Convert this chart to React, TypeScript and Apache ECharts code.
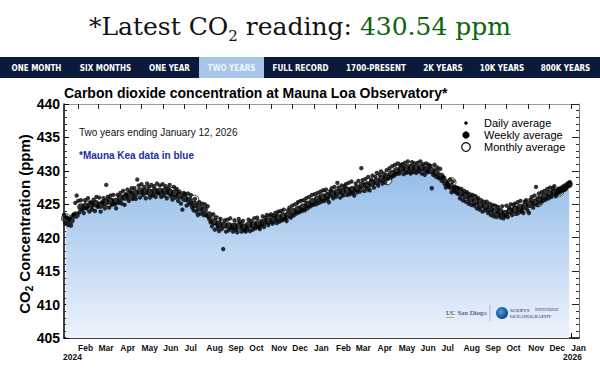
import { useEffect, useRef } from "react";
import * as echarts from "echarts";

const DAY_MS = 86400000;
const RANGE_START = Date.UTC(2024, 0, 12);
const RANGE_END = Date.UTC(2026, 0, 12);

// Daily averages (ppm), one value every 2 days from Jan 12, 2024
const DAILY_STEP = 2;
const DAILY_PPM = [
  423.4, 422.1, 423.0, 421.9, 422.8, 421.8, 423.3, 423.5, 425.2, 426.3,
  425.5, 423.8, 425.6, 424.2, 423.7, 425.6, 424.4, 425.9, 423.9, 425.3,
  424.2, 425.7, 424.0, 426.1, 424.6, 426.0, 423.9, 425.3, 425.9, 424.4,
  427.9, 426.1, 424.5, 426.3, 424.9, 426.4, 425.0, 424.4, 426.4, 425.2,
  426.7, 425.1, 427.0, 424.9, 426.5, 427.2, 425.5, 426.9, 427.4, 425.8,
  427.4, 425.8, 428.7, 427.8, 426.0, 428.0, 426.4, 427.6, 425.9, 428.1,
  427.6, 426.0, 427.9, 426.3, 427.7, 426.1, 428.1, 426.6, 427.8, 426.1,
  428.0, 426.3, 427.7, 425.9, 427.4, 427.9, 426.2, 425.7, 427.6, 426.0,
  427.3, 425.5, 426.9, 425.1, 424.2, 426.7, 426.5, 424.8, 426.6, 425.0,
  426.4, 424.5, 424.1, 425.8, 423.9, 423.4, 425.3, 423.6, 425.1, 423.4,
  425.0, 423.3, 424.7, 422.8, 422.3, 421.7, 423.5, 421.2, 423.0, 421.5,
  421.0, 422.8, 421.3, 418.3, 422.6, 420.9, 422.7, 421.1, 422.9, 421.4,
  420.9, 422.6, 421.2, 420.8, 422.8, 422.3, 420.9, 422.5, 421.1, 420.9,
  421.3, 422.7, 421.0, 422.5, 421.2, 422.9, 421.4, 423.0, 421.6, 421.3,
  421.8, 423.2, 421.6, 423.0, 423.4, 421.9, 423.3, 423.5, 422.1, 423.3,
  423.7, 422.2, 423.9, 422.4, 424.0, 422.6, 424.2, 422.8, 422.5, 424.1,
  424.5, 423.0, 424.8, 423.3, 425.0, 423.6, 425.3, 423.8, 425.5, 424.0,
  425.6, 424.1, 425.9, 424.4, 426.1, 424.7, 426.4, 424.9, 426.5, 425.0,
  426.7, 425.2, 426.9, 425.4, 427.1, 425.5, 427.2, 425.8, 425.3, 427.0,
  427.4, 425.9, 427.6, 426.1, 428.2, 427.5, 426.0, 427.8, 426.3, 427.7,
  428.0, 426.4, 428.2, 426.5, 428.4, 426.7, 426.3, 428.1, 426.8, 428.5,
  426.9, 430.4, 428.6, 427.0, 428.8, 427.3, 429.1, 427.1, 428.7, 429.3,
  427.5, 429.1, 429.7, 427.8, 429.4, 429.9, 428.1, 429.6, 428.3, 430.1,
  428.8, 430.4, 429.0, 430.7, 429.2, 430.9, 429.5, 431.1, 429.6, 430.8,
  431.0, 429.5, 431.2, 429.7, 431.4, 429.9, 429.6, 431.3, 429.8, 431.1,
  429.7, 431.2, 429.9, 431.4, 429.6, 431.0, 429.4, 431.1, 429.8, 430.9,
  430.7, 427.4, 429.4, 430.9, 429.1, 430.5, 428.9, 430.3, 428.5, 429.1,
  428.9, 427.5, 428.1, 427.7, 428.7, 426.8, 428.4, 426.9, 427.5, 426.6,
  427.4, 425.9, 427.3, 425.6, 427.0, 425.4, 426.8, 425.1, 426.5, 424.9,
  426.4, 424.8, 426.2, 424.4, 425.9, 424.2, 425.6, 423.9, 425.4, 424.1,
  425.4, 423.7, 425.1, 423.4, 424.9, 423.2, 424.8, 423.1, 424.6, 423.3,
  423.0, 424.7, 422.9, 423.3, 424.8, 423.1, 424.5, 425.0, 423.4, 424.9,
  425.1, 423.6, 425.3, 423.8, 425.5, 424.0, 423.7, 425.4, 425.6, 424.1,
  423.7, 425.7, 426.1, 424.5, 426.3, 427.6, 424.9, 426.6, 425.2, 426.8,
  425.5, 427.0, 425.7, 427.3, 425.9, 427.5, 426.1, 427.4, 427.7, 426.2,
  426.6, 427.3, 426.9, 427.5, 427.1, 427.8, 427.3, 428.0, 427.7, 428.3,
];

// Weekly averages (ppm), first centred 3 days after Jan 12, 2024, then every 7 days
const WEEKLY_FIRST = 3;
const WEEKLY_PPM = [
  422.8, 422.6, 423.4, 424.6, 424.7, 424.9, 425.1, 424.9, 425.3, 425.5,
  425.4, 425.9, 426.1, 426.3, 426.6, 427.0, 426.9, 426.8, 427.0, 426.9,
  427.0, 426.8, 426.7, 426.3, 425.9, 425.6, 425.0, 424.5, 424.2, 423.4,
  422.4, 422.0, 421.9, 421.8, 421.7, 421.8, 421.6, 421.9, 421.9, 422.1,
  422.3, 422.5, 422.7, 423.0, 423.2, 423.4, 423.9, 424.2, 424.6, 425.0,
  425.4, 425.8, 426.1, 426.3, 426.6, 426.8, 426.9, 427.1, 427.2, 427.4,
  427.8, 427.9, 428.2, 428.4, 428.8, 429.1, 429.6, 430.0, 430.3, 430.4,
  430.5, 430.4, 430.5, 430.2, 430.1, 429.8, 429.2, 428.2, 427.7, 427.3,
  426.7, 426.3, 425.8, 425.4, 424.9, 424.7, 424.3, 424.0, 423.9, 423.6,
  424.0, 424.2, 424.5, 424.7, 425.0, 425.3, 425.8, 426.2, 426.6, 426.8,
  427.0, 427.4, 428.0,
];

// Monthly averages (ppm), Jan 2024 .. Dec 2025, plotted mid-month
const MONTHLY_PPM = [
  422.9, 424.8, 425.3, 426.3, 426.9, 426.9, 425.7, 422.6, 421.8, 422.1, 423.2, 425.0,
  426.3, 426.9, 427.5, 428.6, 430.3, 430.3, 428.3, 425.7, 424.2, 424.0, 425.3, 426.9,
];

const MONTH_ABBR = ["Jan", "Feb", "Mar", "Apr", "May", "Jun", "Jul", "Aug", "Sep", "Oct", "Nov", "Dec"];
const YEAR_LABELS = ["2024", "2026"];
const Y_MIN = 405;
const Y_MAX = 440;
const Y_STEP = 5;

const NAV_ITEMS = ["ONE MONTH", "SIX MONTHS", "ONE YEAR", "TWO YEARS", "FULL RECORD", "1700-PRESENT", "2K YEARS", "10K YEARS", "800K YEARS"];
const NAV_CENTERS = [36.5, 105.5, 169.5, 231.5, 300.5, 376, 443, 502, 565.5];
const ACTIVE_NAV = 3;
const LATEST_READING = "430.54 ppm";
const CHART_TITLE = "Carbon dioxide concentration at Mauna Loa Observatory*";
const SUBTITLE = "Two years ending January 12, 2026";
const NOTE = "*Mauna Kea data in blue";
const LEGEND_LABELS = ["Daily average", "Weekly average", "Monthly average"];

const SANS = "Liberation Sans, Arial, Helvetica, sans-serif";
const SERIF = "DejaVu Serif, serif";

export default function App() {
  const ref = useRef<HTMLDivElement>(null);

  useEffect(() => {
    document.body.style.margin = "0";
    const chart = echarts.init(ref.current!, null, { renderer: "svg" });

    const daily = DAILY_PPM.map((v, i) => [RANGE_START + i * DAILY_STEP * DAY_MS, v]);
    const weekly = WEEKLY_PPM.map((v, i) => [RANGE_START + (WEEKLY_FIRST + 7 * i) * DAY_MS, v]);
    const monthly = MONTHLY_PPM.map((v, i) => [Date.UTC(2024, i, 15), v]);
    const monthStarts = Array.from({ length: 24 }, (_, i) => Date.UTC(2024, i + 1, 1));

    const gridLeft = 64;
    const gridTop = 104;
    const gridRight = 579;
    const gridBottom = 338;

    const navGraphics: any[] = [
      { type: "rect", shape: { x: 0, y: 57, width: 600, height: 21 }, style: { fill: "#0b1a3a" }, silent: true },
      { type: "rect", shape: { x: 199, y: 57, width: 65, height: 21 }, style: { fill: "#a6c5e8" }, silent: true },
    ];
    NAV_ITEMS.forEach((t, i) => {
      navGraphics.push({
        type: "text",
        x: NAV_CENTERS[i],
        y: 68,
        style: {
          text: t,
          fontFamily: "DejaVu Sans Condensed, Liberation Sans Narrow, sans-serif",
          fontWeight: "bold",
          fontSize: 8,
          fill: i === ACTIVE_NAV ? "#eef4fb" : "#ffffff",
          align: "center",
          verticalAlign: "middle",
          textAlign: "center",
          textVerticalAlign: "middle",
        },
      });
    });

    const legendGraphics: any[] = [
      { type: "circle", shape: { cx: 466, cy: 123, r: 1.8 }, style: { fill: "#000" } },
      { type: "circle", shape: { cx: 466, cy: 135, r: 3.6 }, style: { fill: "#000" } },
      { type: "circle", shape: { cx: 466, cy: 147, r: 4.3 }, style: { fill: "#fff", stroke: "#000", lineWidth: 1.2 } },
    ];
    LEGEND_LABELS.forEach((t, i) => {
      legendGraphics.push({
        type: "text",
        x: 484,
        y: 123 + i * 12,
        style: { text: t, fontFamily: SANS, fontSize: 11, fill: "#000", verticalAlign: "middle", textVerticalAlign: "middle" },
      });
    });

    const graphics: any[] = [
      {
        type: "text",
        x: 300,
        y: 26,
        style: {
          text: "{a|*Latest CO}{s|2}{a| reading: }{g|" + LATEST_READING + "}",
          align: "center",
          verticalAlign: "middle",
          textAlign: "center",
          textVerticalAlign: "middle",
          rich: {
            a: { fontFamily: SERIF, fontSize: 25, fill: "#111", color: "#111", lineHeight: 34 },
            s: { fontFamily: SERIF, fontSize: 15, fill: "#111", color: "#111", lineHeight: 16, verticalAlign: "bottom" },
            g: { fontFamily: SERIF, fontSize: 25, fill: "#0b650b", color: "#0b650b", lineHeight: 34 },
          },
        },
      },
      ...navGraphics,
      {
        type: "text",
        x: 64,
        y: 93,
        style: { text: CHART_TITLE, fontFamily: SANS, fontWeight: "bold", fontSize: 14, fill: "#000", verticalAlign: "middle", textVerticalAlign: "middle" },
      },
      {
        type: "text",
        x: 79,
        y: 132,
        style: { text: SUBTITLE, fontFamily: SANS, fontSize: 10, fill: "#111", verticalAlign: "middle", textVerticalAlign: "middle" },
      },
      {
        type: "text",
        x: 79,
        y: 155,
        style: { text: NOTE, fontFamily: SANS, fontWeight: "bold", fontSize: 10, fill: "#1b2fa6", verticalAlign: "middle", textVerticalAlign: "middle" },
      },
      ...legendGraphics,
      {
        type: "text",
        x: 24,
        y: 224,
        rotation: Math.PI / 2,
        style: {
          text: "{a|CO}{s|2}{a| Concentration (ppm)}",
          align: "center",
          verticalAlign: "middle",
          textAlign: "center",
          textVerticalAlign: "middle",
          rich: {
            a: { fontFamily: SANS, fontWeight: "bold", fontSize: 15, fill: "#000", color: "#000", lineHeight: 20 },
            s: { fontFamily: SANS, fontWeight: "bold", fontSize: 10, fill: "#000", color: "#000", lineHeight: 11, verticalAlign: "bottom" },
          },
        },
      },
      {
        type: "text",
        x: 63,
        y: 357,
        style: { text: YEAR_LABELS[0], fontFamily: SANS, fontWeight: "bold", fontSize: 8.5, fill: "#111", verticalAlign: "middle", textVerticalAlign: "middle" },
      },
      {
        type: "text",
        x: 582,
        y: 357,
        style: { text: YEAR_LABELS[1], fontFamily: SANS, fontWeight: "bold", fontSize: 8.5, fill: "#111", align: "right", textAlign: "right", verticalAlign: "middle", textVerticalAlign: "middle" },
      },
      {
        type: "text",
        x: 446,
        y: 313,
        style: { text: "UC San Diego", fontFamily: "Liberation Serif, serif", fontSize: 7, fill: "#182b49", verticalAlign: "middle", textVerticalAlign: "middle" },
      },
      { type: "line", shape: { x1: 446, y1: 317.5, x2: 454, y2: 317.5 }, style: { stroke: "#c69214", lineWidth: 0.8 } },
      { type: "line", shape: { x1: 490, y1: 305, x2: 490, y2: 321 }, style: { stroke: "#9fb0c2", lineWidth: 0.8 } },
      {
        type: "circle",
        shape: { cx: 502, cy: 313, r: 6 },
        style: {
          fill: new echarts.graphic.RadialGradient(0.4, 0.4, 0.7, [
            { offset: 0, color: "#49a3d8" },
            { offset: 0.6, color: "#1c5da8" },
            { offset: 1, color: "#0d2f6b" },
          ]),
        },
      },
      {
        type: "text",
        x: 510,
        y: 310,
        style: { text: "SCRIPPS", fontFamily: "Liberation Serif, serif", fontSize: 5, fill: "#1a2a55", verticalAlign: "middle", textVerticalAlign: "middle" },
      },
      {
        type: "text",
        x: 535,
        y: 310,
        style: { text: "INSTITUTION OF", fontFamily: "Liberation Serif, serif", fontSize: 3, fill: "#1a2a55", verticalAlign: "middle", textVerticalAlign: "middle" },
      },
      {
        type: "text",
        x: 510,
        y: 316.5,
        style: { text: "OCEANOGRAPHY", fontFamily: "Liberation Serif, serif", fontSize: 5, fill: "#1a2a55", verticalAlign: "middle", textVerticalAlign: "middle" },
      },
    ].map((g) => ({ ...g, z: 100 }));

    const option: any = {
      animation: false,
      backgroundColor: "#ffffff",
      grid: {
        left: gridLeft,
        top: gridTop,
        width: gridRight - gridLeft,
        height: gridBottom - gridTop,
        containLabel: false,
      },
      xAxis: [
        {
          type: "value",
          min: RANGE_START,
          max: RANGE_END,
          position: "bottom",
          axisLine: { show: true, lineStyle: { color: "#000", width: 1.5 } },
          axisTick: { show: true, inside: true, length: 5, customValues: monthStarts, lineStyle: { color: "#000", width: 1 } },
          axisLabel: {
            show: true,
            customValues: monthStarts,
            formatter: (v: number) => MONTH_ABBR[new Date(v).getUTCMonth()],
            align: "left",
            margin: 5,
            fontFamily: SANS,
            fontWeight: "bold",
            fontSize: 8.5,
            color: "#111",
          },
          splitLine: { show: false },
        },
        {
          type: "value",
          min: RANGE_START,
          max: RANGE_END,
          position: "top",
          axisLine: { show: true, lineStyle: { color: "#9a9a9a", width: 1 } },
          axisTick: { show: true, inside: true, length: 5, customValues: monthStarts, lineStyle: { color: "#222", width: 1 } },
          axisLabel: { show: false },
          splitLine: { show: false },
        },
      ],
      yAxis: [
        {
          type: "value",
          min: Y_MIN,
          max: Y_MAX,
          interval: Y_STEP,
          position: "left",
          axisLine: { show: true, lineStyle: { color: "#000", width: 1.5 } },
          axisTick: { show: true, inside: true, length: 5, lineStyle: { color: "#000" } },
          minorTick: { show: true, splitNumber: 5, length: 3, lineStyle: { color: "#333" } },
          axisLabel: { fontFamily: SANS, fontWeight: "bold", fontSize: 14, color: "#000", margin: 4 },
          splitLine: { show: false },
        },
        {
          type: "value",
          min: Y_MIN,
          max: Y_MAX,
          interval: Y_STEP,
          position: "right",
          axisLine: { show: true, lineStyle: { color: "#777", width: 1 } },
          axisTick: { show: true, inside: true, length: 7, lineStyle: { color: "#222" } },
          minorTick: { show: true, splitNumber: 5, length: 3, lineStyle: { color: "#333" } },
          axisLabel: { show: false },
          splitLine: { show: false },
        },
      ],
      series: [
        {
          name: "area",
          type: "line",
          data: weekly,
          smooth: 0.3,
          symbol: "none",
          lineStyle: { width: 0, opacity: 0 },
          areaStyle: {
            opacity: 1,
            color: new echarts.graphic.LinearGradient(0, 0, 0, 1, [
              { offset: 0, color: "#92bce9" },
              { offset: 1, color: "#edf3fc" },
            ]),
          },
          silent: true,
          z: 1,
        },
        {
          name: "Monthly average",
          type: "scatter",
          data: monthly,
          symbol: "circle",
          symbolSize: 9,
          itemStyle: { color: "#ffffff", borderColor: "#000", borderWidth: 1 },
          z: 2,
        },
        {
          name: "Daily average",
          type: "scatter",
          data: daily,
          symbol: "circle",
          symbolSize: 4.4,
          itemStyle: { color: "#000" },
          z: 3,
        },
        {
          name: "Weekly average",
          type: "scatter",
          data: weekly,
          symbol: "circle",
          symbolSize: 7.5,
          itemStyle: { color: "#000" },
          z: 4,
        },
      ],
      graphic: graphics,
    };

    chart.setOption(option);
    return () => chart.dispose();
  }, []);

  return <div ref={ref} style={{ width: 600, height: 373 }} />;
}
